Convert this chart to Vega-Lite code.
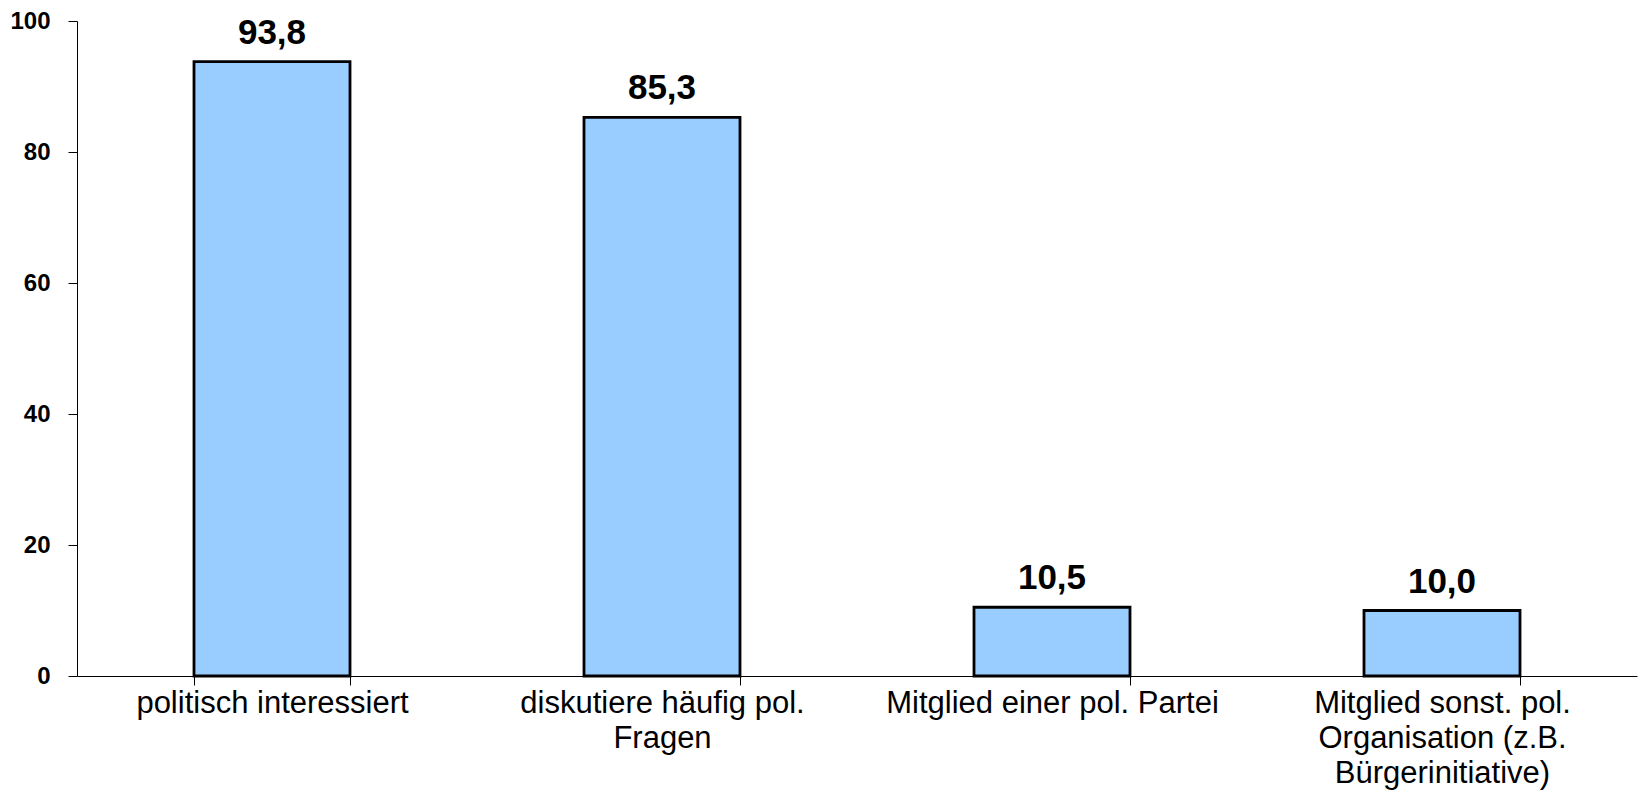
{
  "$schema": "https://vega.github.io/schema/vega-lite/v6.json",
  "width": 1560,
  "height": 655,
  "autosize": {"type": "none"},
  "padding": {"left": 77, "top": 21, "right": 1, "bottom": 119},
  "background": "white",
  "config": {
    "view": {"stroke": null},
    "font": "Liberation Sans",
    "locale": {"number": {"decimal": ",", "thousands": ".", "grouping": [3], "currency": ["", " €"]}}
  },
  "data": {
    "values": [
      {"kategorie": "politisch interessiert", "wert": 93.8},
      {"kategorie": "diskutiere häufig pol.|Fragen", "wert": 85.3},
      {"kategorie": "Mitglied einer pol. Partei", "wert": 10.5},
      {"kategorie": "Mitglied sonst. pol.|Organisation (z.B.|Bürgerinitiative)", "wert": 10.0}
    ]
  },
  "encoding": {
    "x": {
      "field": "kategorie",
      "type": "nominal",
      "sort": null,
      "scale": {"paddingInner": 0.6, "paddingOuter": 0.3},
      "axis": {
        "title": null,
        "labelAngle": 0,
        "labelExpr": "split(datum.label, '|')",
        "labelFont": "Liberation Sans",
        "labelFontSize": 31,
        "labelColor": "black",
        "labelLineHeight": 35,
        "labelPadding": 3,
        "labelLimit": 0,
        "tickBand": "extent",
        "tickSize": 9,
        "tickColor": "black",
        "domainColor": "black",
        "tickWidth": 1,
        "domainWidth": 1
      }
    },
    "y": {
      "field": "wert",
      "type": "quantitative",
      "scale": {"domain": [0, 100]},
      "axis": {
        "title": null,
        "values": [0, 20, 40, 60, 80, 100],
        "grid": false,
        "labelFont": "Liberation Sans",
        "labelFontSize": 24,
        "labelFontWeight": "bold",
        "labelColor": "black",
        "labelPadding": 18,
        "tickSize": 9,
        "tickColor": "black",
        "domainColor": "black"
      }
    }
  },
  "layer": [
    {
      "mark": {"type": "bar", "fill": "#99CCFF", "stroke": "black", "strokeWidth": 2.8}
    },
    {
      "mark": {"type": "text", "baseline": "alphabetic", "dy": -18, "fontSize": 35, "fontWeight": "bold", "font": "Liberation Sans", "color": "black"},
      "encoding": {
        "text": {"field": "wert", "type": "quantitative", "format": ".1f"}
      }
    }
  ]
}
